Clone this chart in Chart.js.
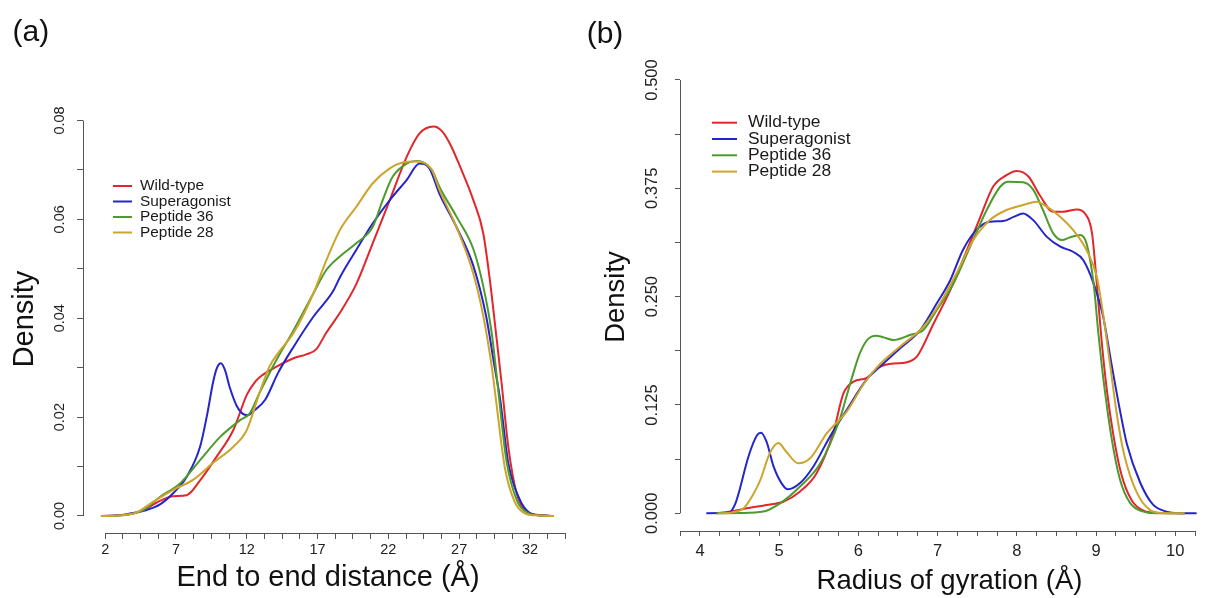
<!DOCTYPE html>
<html>
<head>
<meta charset="utf-8">
<script src="https://cdn.jsdelivr.net/npm/chart.js@4.4.0/dist/chart.umd.min.js"></script>
<style>
  body { margin: 0; width: 1206px; height: 598px; overflow: hidden; background: #fff; position: relative; }
  .panel { position: absolute; top: 0; }
  #wrapA { left: 0; }
  #wrapB { left: 580px; }
</style>
</head>
<body>
<div class="panel" id="wrapA"><canvas id="chartA" width="580" height="598"></canvas></div>
<div class="panel" id="wrapB"><canvas id="chartB" width="650" height="598"></canvas></div>
<script>
// --- series ---
const seriesNames = ['Wild-type', 'Superagonist', 'Peptide 36', 'Peptide 28'];
const seriesColors = ['#e2262b', '#2525cc', '#4d9a2d', '#cda42c'];

// (a) end to end distance, [x (Å), density]
const e2eWildType = [[1.7,0],[2.8,0.0001],[3.6,0.0003],[4.7,0.0012],[5.9,0.0031],[6.8,0.004],[7.75,0.0042],[8.7,0.0072],[9.87,0.012],[11.05,0.0174],[12.0,0.0245],[12.6,0.0272],[13.1,0.0285],[14.1,0.0302],[15.3,0.0319],[16.2,0.0327],[16.9,0.0337],[17.6,0.037],[18.6,0.0412],[19.75,0.047],[20.9,0.0552],[22.1,0.0639],[23.3,0.0727],[24.2,0.0774],[25.2,0.0788],[25.8,0.0778],[26.4,0.075],[27.06,0.0707],[28.0,0.0639],[28.7,0.0572],[29.2,0.047],[29.6,0.037],[30.0,0.0268],[30.47,0.014],[31.06,0.0046],[31.76,0.0009],[32.7,0.0002],[33.7,0]];
const e2eSuperagonist = [[1.7,0],[2.8,0.0001],[3.75,0.0005],[4.8,0.0011],[5.9,0.0024],[6.8,0.0046],[7.75,0.0079],[8.7,0.014],[9.2,0.0205],[9.63,0.0272],[9.9,0.03],[10.17,0.0309],[10.45,0.0296],[10.8,0.026],[11.3,0.0222],[11.7,0.0207],[12.05,0.0204],[12.5,0.0213],[13.3,0.0235],[14.2,0.0289],[15.3,0.0342],[16.7,0.0403],[18.1,0.0455],[18.6,0.0484],[19.75,0.0539],[20.9,0.0592],[22.1,0.0639],[23.3,0.068],[24.2,0.0713],[24.9,0.0703],[25.6,0.0652],[26.8,0.0585],[28.0,0.0506],[28.9,0.0405],[29.5,0.0302],[29.9,0.0235],[30.47,0.0107],[31.3,0.0032],[31.9,0.0008],[32.8,0.0001],[33.7,0]];
const e2ePeptide36 = [[1.7,0],[3.0,0.0001],[4.7,0.0012],[5.88,0.0039],[7.29,0.0066],[8.7,0.0113],[10.12,0.016],[11.53,0.0194],[12.2,0.0207],[12.9,0.0249],[14.1,0.0316],[15.2,0.037],[16.7,0.045],[17.63,0.0498],[18.57,0.0525],[19.75,0.0552],[20.9,0.0585],[21.6,0.0639],[22.3,0.0686],[23.3,0.0713],[24.0,0.0718],[25.07,0.07],[25.6,0.0666],[26.8,0.0606],[28.0,0.054],[28.7,0.0465],[29.3,0.037],[29.7,0.027],[30.35,0.011],[31.1,0.003],[31.8,0.0007],[32.8,0.0001],[33.7,0]];
const e2ePeptide28 = [[1.7,0],[3.0,0.0001],[4.2,0.0007],[5.4,0.0029],[6.8,0.0053],[8.2,0.0073],[9.6,0.0107],[11.05,0.014],[12.0,0.0174],[12.9,0.0249],[13.6,0.0302],[14.2,0.0329],[15.3,0.037],[16.7,0.045],[17.63,0.0518],[18.57,0.0578],[19.75,0.0626],[20.9,0.0673],[22.1,0.0703],[23.0,0.0715],[23.9,0.0717],[25.07,0.07],[25.6,0.066],[26.8,0.0585],[28.0,0.049],[28.7,0.0405],[29.3,0.0302],[29.6,0.0235],[30.23,0.0097],[30.9,0.003],[31.6,0.0006],[32.6,0.0001],[33.7,0]];

// (b) radius of gyration, [x (Å), density]
const rgWildType = [[4.2,0],[4.4,0.002],[4.59,0.0058],[4.84,0.0096],[5.05,0.0134],[5.26,0.025],[5.47,0.046],[5.68,0.092],[5.81,0.138],[5.94,0.152],[6.1,0.156],[6.27,0.169],[6.45,0.173],[6.6,0.174],[6.74,0.181],[6.95,0.219],[7.16,0.2576],[7.37,0.3038],[7.54,0.342],[7.7,0.3768],[7.87,0.3903],[8.0,0.395],[8.15,0.3884],[8.29,0.367],[8.46,0.348],[8.59,0.348],[8.76,0.3507],[8.86,0.346],[8.95,0.323],[9.01,0.265],[9.07,0.2],[9.14,0.14],[9.22,0.09],[9.32,0.045],[9.45,0.015],[9.6,0.003],[9.8,0.0003],[10.12,0]];
const rgSuperagonist = [[4.08,0],[4.3,0.0003],[4.38,0.0015],[4.45,0.012],[4.5,0.027],[4.61,0.065],[4.72,0.09],[4.77,0.093],[4.84,0.0826],[4.93,0.0538],[5.03,0.0346],[5.11,0.0277],[5.26,0.0346],[5.43,0.0538],[5.64,0.0884],[5.85,0.119],[6.1,0.154],[6.27,0.169],[6.52,0.19],[6.78,0.2115],[6.99,0.2423],[7.16,0.269],[7.32,0.3038],[7.49,0.327],[7.66,0.3365],[7.83,0.3373],[7.96,0.342],[8.08,0.346],[8.21,0.338],[8.38,0.319],[8.55,0.3076],[8.71,0.3018],[8.84,0.292],[8.97,0.265],[9.09,0.227],[9.2,0.17],[9.3,0.12],[9.39,0.08],[9.56,0.035],[9.72,0.01],[9.89,0.002],[10.05,0.0002],[10.27,0]];
const rgPeptide36 = [[4.2,0],[4.5,0.0003],[4.8,0.002],[5.01,0.0115],[5.26,0.0307],[5.52,0.0577],[5.77,0.11],[5.85,0.135],[5.93,0.16],[6.02,0.185],[6.12,0.201],[6.22,0.205],[6.32,0.203],[6.44,0.2],[6.65,0.2057],[6.82,0.2115],[6.99,0.2346],[7.2,0.265],[7.41,0.3076],[7.62,0.35],[7.79,0.3768],[7.89,0.3826],[8.08,0.382],[8.21,0.373],[8.33,0.35],[8.46,0.323],[8.57,0.3153],[8.67,0.3184],[8.8,0.321],[8.88,0.3115],[8.97,0.265],[9.03,0.2077],[9.1,0.15],[9.2,0.085],[9.3,0.04],[9.43,0.012],[9.6,0.002],[9.77,0.0002],[10.12,0]];
const rgPeptide28 = [[4.23,0],[4.4,0.001],[4.55,0.0058],[4.66,0.02],[4.76,0.038],[4.88,0.069],[4.99,0.081],[5.09,0.071],[5.24,0.0577],[5.39,0.0635],[5.6,0.0923],[5.85,0.117],[6.08,0.151],[6.27,0.172],[6.52,0.192],[6.82,0.2153],[7.03,0.2423],[7.24,0.277],[7.45,0.3153],[7.66,0.3384],[7.87,0.35],[8.08,0.3557],[8.25,0.3596],[8.38,0.3538],[8.55,0.342],[8.71,0.327],[8.88,0.3038],[9.01,0.273],[9.09,0.23],[9.18,0.17],[9.27,0.11],[9.35,0.07],[9.51,0.025],[9.68,0.004],[9.85,0.0003],[10.12,0]];

// --- ticks ---
const e2eXTicks = [2,3.25,4.5,5.75,7,8.25,9.5,10.75,12,13.25,14.5,15.75,17,18.25,19.5,20.75,22,23.25,24.5,25.75,27,28.25,29.5,30.75,32,33.25,34.5];
const e2eXLabels = ['2','7','12','17','22','27','32'];
const e2eYTicks = [0,0.01,0.02,0.03,0.04,0.05,0.06,0.07,0.08];
const e2eYMajor = [0,0.02,0.04,0.06,0.08];
const e2eYLabels = ['0.00','0.02','0.04','0.06','0.08'];

const rgXTicks = [3.75,4,4.25,4.5,4.75,5,5.25,5.5,5.75,6,6.25,6.5,6.75,7,7.25,7.5,7.75,8,8.25,8.5,8.75,9,9.25,9.5,9.75,10,10.25];
const rgXLabels = ['4','5','6','7','8','9','10'];
const rgYTicks = [0,0.0625,0.125,0.1875,0.25,0.3125,0.375,0.4375,0.5];
const rgYMajor = [0,0.125,0.25,0.375,0.5];
const rgYLabels = ['0.000','0.125','0.250','0.375','0.500'];

const FONT = '"Liberation Sans", Arial, sans-serif';
const AXIS = '#555';

function align(v) { return Math.round(v - 0.5) + 0.5; }

function makePanel(id, p) {
  // R-style extras: axis lines only over the tick range, rotated y labels, legend, panel tag
  const decor = {
    id: 'decor' + id,
    afterDraw(chart) {
      const ctx = chart.ctx, xs = chart.scales.x, ys = chart.scales.y, area = chart.chartArea;
      ctx.save();
      ctx.strokeStyle = AXIS;
      ctx.lineWidth = 1;
      ctx.beginPath();
      const by = align(area.bottom);
      ctx.moveTo(xs.getPixelForValue(p.xTicks[0]), by);
      ctx.lineTo(xs.getPixelForValue(p.xTicks[p.xTicks.length - 1]), by);
      const lx = align(area.left);
      ctx.moveTo(lx, ys.getPixelForValue(p.yTicks[0]));
      ctx.lineTo(lx, ys.getPixelForValue(p.yTicks[p.yTicks.length - 1]));
      ctx.stroke();

      ctx.fillStyle = '#222';
      ctx.font = p.tickSize + 'px ' + FONT;
      ctx.textAlign = 'center';
      ctx.textBaseline = 'middle';
      p.yMajor.forEach((v, i) => {
        ctx.save();
        ctx.translate(area.left - p.yLabelOffset, ys.getPixelForValue(v));
        ctx.rotate(-Math.PI / 2);
        ctx.fillText(p.yLabels[i], 0, 0);
        ctx.restore();
      });

      const lg = p.legend;
      ctx.font = lg.size + 'px ' + FONT;
      ctx.textAlign = 'left';
      chart.data.datasets.forEach((ds, i) => {
        const y = lg.y + i * lg.dy;
        ctx.strokeStyle = ds.borderColor;
        ctx.lineWidth = 2;
        ctx.beginPath();
        ctx.moveTo(lg.x1, y);
        ctx.lineTo(lg.x2, y);
        ctx.stroke();
        ctx.fillStyle = '#1a1a1a';
        ctx.fillText(ds.label, lg.tx, y);
      });

      ctx.font = '30px ' + FONT;
      ctx.fillStyle = '#111';
      ctx.textBaseline = 'alphabetic';
      ctx.fillText(p.tag, p.tagX, p.tagY);
      ctx.restore();
    }
  };

  const datasets = p.series.map((pts, i) => ({
    label: seriesNames[i],
    data: pts.map(([x, y]) => ({ x, y })),
    borderColor: seriesColors[i],
    borderWidth: 2,
    pointRadius: 0,
    fill: false,
    cubicInterpolationMode: 'monotone',
    order: p.series.length - i
  }));

  return new Chart(document.getElementById(id), {
    type: 'line',
    data: { datasets },
    options: {
      responsive: false,
      animation: false,
      events: [],
      layout: { padding: p.padding },
      plugins: { legend: { display: false }, tooltip: { enabled: false } },
      scales: {
        x: {
          type: 'linear',
          min: p.xMin,
          max: p.xMax,
          afterBuildTicks: s => { s.ticks = p.xTicks.map(v => ({ value: v })); },
          afterFit: s => { s.height = p.xAxisHeight; },
          ticks: {
            autoSkip: false, maxRotation: 0, minRotation: 0,
            padding: p.xTickPad, color: '#222',
            font: { family: FONT, size: p.tickSize, lineHeight: 1.2 },
            callback: v => p.xLabels.includes(String(v)) ? String(v) : ''
          },
          grid: { drawOnChartArea: false, tickLength: p.tickLen, color: AXIS },
          border: { display: false },
          title: {
            display: true, text: p.xTitle, color: '#111',
            font: { family: FONT, size: p.titleSize, lineHeight: 1.2 },
            padding: { top: 0, bottom: p.xTitlePad }
          }
        },
        y: {
          type: 'linear',
          min: p.yMin,
          max: p.yMax,
          afterBuildTicks: s => { s.ticks = p.yTicks.map(v => ({ value: v })); },
          afterFit: s => { s.width = p.yAxisWidth; },
          ticks: { callback: () => '' },
          grid: { drawOnChartArea: false, tickLength: p.tickLen, color: AXIS },
          border: { display: false },
          title: {
            display: true, text: 'Density', color: '#111',
            font: { family: FONT, size: p.titleSize, lineHeight: 1.2 },
            padding: { top: p.yTitlePad, bottom: 0 }
          }
        }
      }
    },
    plugins: [decor]
  });
}

makePanel('chartA', {
  series: [e2eWildType, e2eSuperagonist, e2ePeptide36, e2ePeptide28],
  xMin: 0.432, xMax: 35.04, yMin: -0.00344, yMax: 0.08313,
  xTicks: e2eXTicks, xLabels: e2eXLabels,
  yTicks: e2eYTicks, yMajor: e2eYMajor, yLabels: e2eYLabels,
  padding: { top: 105, right: 7, bottom: 0, left: 0 },
  yAxisWidth: 83, xAxisHeight: 65,
  tickLen: 6, tickSize: 14.5, xTickPad: 2.5, yLabelOffset: 23.5,
  titleSize: 29, xTitle: 'End to end distance (Å)', xTitlePad: 3, yTitlePad: 8,
  legend: { x1: 113, x2: 132, tx: 140, y: 186, dy: 15.5, size: 15.4 },
  tag: '(a)', tagX: 12.5, tagY: 41
});

makePanel('chartB', {
  series: [rgWildType, rgSuperagonist, rgPeptide36, rgPeptide28],
  xMin: 3.7475, xMax: 10.553, yMin: -0.0204, yMax: 0.5196,
  xTicks: rgXTicks, xLabels: rgXLabels,
  yTicks: rgYTicks, yMajor: rgYMajor, yLabels: rgYLabels,
  padding: { top: 63, right: 11, bottom: 0, left: 0 },
  yAxisWidth: 100, xAxisHeight: 67,
  tickLen: 5, tickSize: 16.5, xTickPad: 6, yLabelOffset: 27.5,
  titleSize: 27.5, xTitle: 'Radius of gyration (Å)', xTitlePad: 0.5, yTitlePad: 20.4,
  legend: { x1: 132, x2: 157, tx: 168, y: 122.7, dy: 16.3, size: 17.4 },
  tag: '(b)', tagX: 6.7, tagY: 43.3
});
</script>
</body>
</html>
